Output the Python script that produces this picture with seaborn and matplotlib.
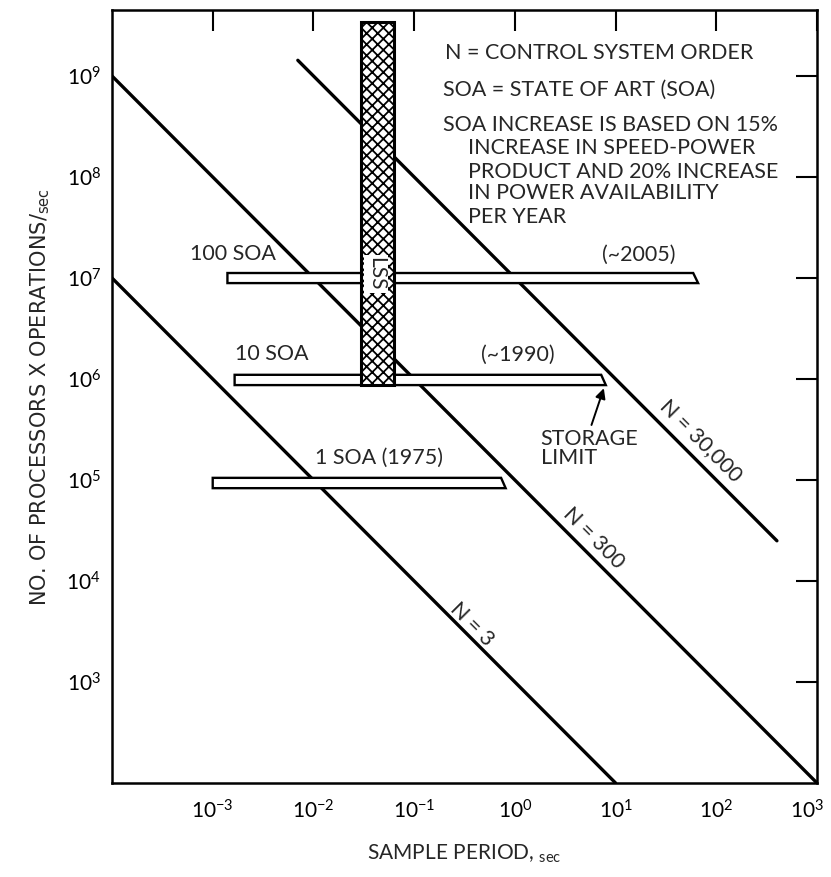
import numpy as np
import pandas as pd
import matplotlib
matplotlib.use("Agg")
import matplotlib.pyplot as plt
import matplotlib.transforms as mtransforms
from matplotlib.patches import Polygon
import seaborn as sns

# --- N = control system order lines (sample period vs ops/sec) ---
n_names = ["N = 3", "N = 3", "N = 300", "N = 300", "N = 30,000", "N = 30,000"]
n_period = [1e-4, 10, 1e-4, 1e3, 7e-3, 400]
n_ops = [1e7, 1e2, 1e9, 1e2, 1.43e9, 2.5e4]

# --- state of art bars ---
soa_names = ["1 SOA (1975)", "10 SOA", "100 SOA"]
soa_left = [1.0e-3, 1.65e-3, 1.4e-3]
soa_right_top = [0.73, 7.2, 59]
soa_right_bot = [0.81, 8.0, 66]
soa_low = [8.3e4, 8.7e5, 8.9e6]
soa_high = [1.05e5, 1.1e6, 1.12e7]
soa_years = ["", "(~1990)", "(~2005)"]

# --- LSS column ---
lss_x = [0.0294, 0.063]
lss_y = [8.7e5, 3.4e9]

x_ticks = [1e-3, 1e-2, 1e-1, 1e0, 1e1, 1e2, 1e3]
y_ticks = [1e3, 1e4, 1e5, 1e6, 1e7, 1e8, 1e9]

note_lines = ["N = CONTROL SYSTEM ORDER",
              "SOA = STATE OF ART (SOA)",
              "SOA INCREASE IS BASED ON 15%",
              "INCREASE IN SPEED-POWER",
              "PRODUCT AND 20% INCREASE",
              "IN POWER AVAILABILITY",
              "PER YEAR"]

sns.set_style("white")
plt.rcParams['font.family'] = ['Lato', 'DejaVu Sans']
plt.rcParams['hatch.linewidth'] = 1.3

fig = plt.figure(figsize=(8.31, 8.77), dpi=100)
ax = fig.add_axes([112 / 831, 1 - 783 / 877, 705 / 831, 773 / 877])

df = pd.DataFrame({"N": n_names, "period": n_period, "ops": n_ops})
sns.lineplot(data=df, x="period", y="ops", units="N", estimator=None,
             color="black", lw=2.4, legend=False, ax=ax, zorder=2)

ax.set_xscale("log")
ax.set_yscale("log")
ax.set_xlim(1e-4, 1e3)
ax.set_ylim(1e2, 4.5e9)

# bars with slanted right end
for i in range(len(soa_names)):
    verts = [(soa_left[i], soa_low[i]), (soa_left[i], soa_high[i]),
             (soa_right_top[i], soa_high[i]), (soa_right_bot[i], soa_low[i])]
    ax.add_patch(Polygon(verts, closed=True, facecolor="white",
                         edgecolor="black", lw=1.7, zorder=3))

# LSS hatched column
ax.fill([lss_x[0], lss_x[1], lss_x[1], lss_x[0]],
        [lss_y[0], lss_y[0], lss_y[1], lss_y[1]],
        facecolor="white", edgecolor="black", hatch="xxx", lw=2.2, zorder=4)
ax.text(0.042, 1.1e7, "LSS", rotation=-90, ha="center", va="center",
        fontsize=15, zorder=5,
        bbox=dict(boxstyle="square,pad=0.1", fc="white", ec="none"))

# labels for bars
fs = 15.5
ax.text(5.9e-4, 1.74e7, "100 SOA", ha="left", va="center", fontsize=fs)
ax.text(1.65e-3, 1.75e6, "10 SOA", ha="left", va="center", fontsize=fs)
ax.text(0.0103, 1.65e5, soa_names[0], ha="left", va="center", fontsize=fs)
ax.text(7.3, 1.7e7, soa_years[2], ha="left", va="center", fontsize=fs)
ax.text(0.46, 1.75e6, soa_years[1], ha="left", va="center", fontsize=fs)

ax.text(1.8, 3.2e5, "STORAGE\nLIMIT", ha="left", va="top", fontsize=fs,
        linespacing=0.95)
ax.annotate("", xy=(7.8, 8.6e5), xytext=(5.65, 3.3e5),
            arrowprops=dict(arrowstyle="-|>", color="black", lw=1.4,
                            mutation_scale=15))

# rotated N labels
fig.canvas.draw()
p0 = ax.transData.transform((1e-4, 1e9))
p1 = ax.transData.transform((1e3, 1e2))
angle = np.degrees(np.arctan2(p1[1] - p0[1], p1[0] - p0[0]))
for txt, xy in zip(["N = 3", "N = 300", "N = 30,000"],
                   [(0.37, 3.75e3), (6.05, 2.63e4), (71, 2.43e5)]):
    ax.text(xy[0], xy[1], txt, rotation=angle, rotation_mode="anchor",
            ha="center", va="center", fontsize=fs)

# notes block
note_x = [0.472, 0.469, 0.469, 0.505, 0.505, 0.505, 0.505]
note_y = [0.944, 0.8965, 0.851, 0.8215, 0.790, 0.763, 0.732]
for t, x, y in zip(note_lines, note_x, note_y):
    ax.text(x, y, t, transform=ax.transAxes, ha="left", va="center",
            fontsize=fs)

ax.set_xticks(x_ticks)
ax.set_yticks(y_ticks)
ax.minorticks_off()
ax.tick_params(which="major", direction="in", length=15, width=1.5,
               top=True, right=True, labelsize=15, colors="black")
ax.tick_params(axis="x", pad=12)
ax.tick_params(axis="y", pad=8)
for s in ax.spines.values():
    s.set_linewidth(1.8)
    s.set_color("black")

# pull the last x tick label inside the canvas
last = ax.get_xticklabels()[-1]
last.set_transform(last.get_transform() +
                   mtransforms.ScaledTranslation(-10 / 100, 0,
                                                 fig.dpi_scale_trans))

ax.set_xlabel(r"SAMPLE PERIOD, $\mathregular{_{sec}}$", fontsize=15,
              labelpad=14)
ax.set_ylabel(r"NO. OF PROCESSORS X OPERATIONS/$\mathregular{_{sec}}$",
              fontsize=15, labelpad=10, family=["DejaVu Sans"])

fig.savefig("out.png", dpi=100)
